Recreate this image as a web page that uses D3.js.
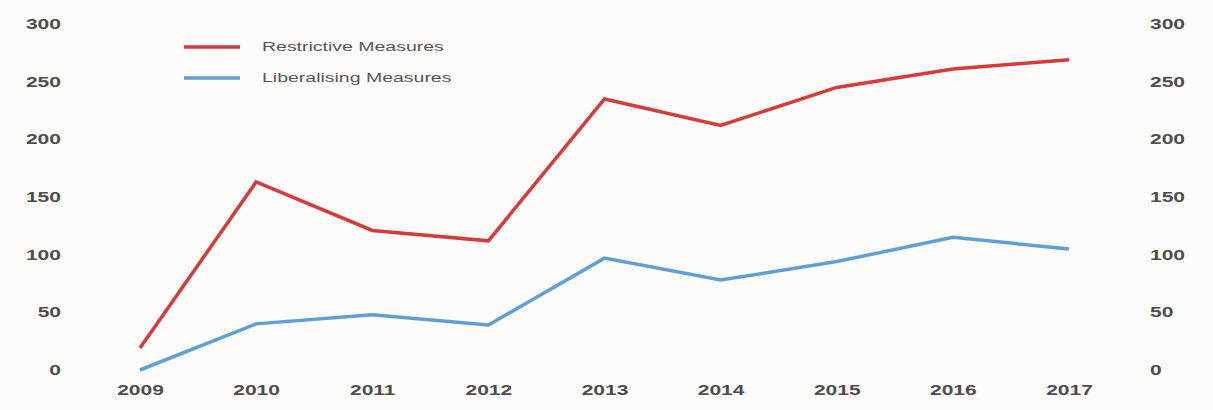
<!DOCTYPE html>
<html>
<head>
<meta charset="utf-8">
<script src="https://cdn.jsdelivr.net/npm/d3@7"></script>
<style>
  body { margin: 0; background: #fdfcfb; }
  svg { display: block; font-family: "Liberation Sans", Arial, sans-serif; }
  .tick text { fill: #4d4d4d; font-size: 14.5px; font-weight: bold; transform-box: fill-box; }
  .legend text { fill: #555; font-size: 12.5px; transform-box: fill-box; transform-origin: left center; transform: scaleX(1.56); }
</style>
</head>
<body>
<svg width="1213" height="410"></svg>
<script>
const years = [2009, 2010, 2011, 2012, 2013, 2014, 2015, 2016, 2017];
const restrictive = [19, 163, 121, 112, 235, 212, 245, 261, 269];
const liberalising = [0, 40, 48, 39, 97, 78, 94, 115, 105];
const yTicks = [0, 50, 100, 150, 200, 250, 300];

const svg = d3.select("svg");

const x = d3.scalePoint().domain(years).range([140, 1069]);
const y = d3.scaleLinear().domain([0, 300]).range([370, 24]);

const series = [
  {name: "Restrictive Measures", values: restrictive, color: "#d8393b"},
  {name: "Liberalising Measures", values: liberalising, color: "#5ea0d6"}
];

// the labels in the picture are stretched sideways
const stretch = (origin) => g => g.selectAll("text")
    .style("transform-origin", origin)
    .style("transform", "scaleX(1.45)");

svg.append("g")
    .attr("transform", "translate(61,0)")
    .call(d3.axisLeft(y).tickValues(yTicks).tickSize(0).tickPadding(0))
    .call(g => g.select(".domain").remove())
    .call(stretch("right center"));

svg.append("g")
    .attr("transform", "translate(1150,0)")
    .call(d3.axisRight(y).tickValues(yTicks).tickSize(0).tickPadding(0))
    .call(g => g.select(".domain").remove())
    .call(stretch("left center"));

svg.append("g")
    .attr("transform", "translate(0,385)")
    .call(d3.axisBottom(x).tickSize(0).tickPadding(0).tickFormat(d3.format("d")))
    .call(g => g.select(".domain").remove())
    .call(stretch("center"));

const line = d3.line()
    .x((d, i) => x(years[i]))
    .y(d => y(d));

svg.selectAll("path.series")
  .data(series)
  .enter().append("path")
    .attr("class", "series")
    .attr("fill", "none")
    .attr("stroke", d => d.color)
    .attr("stroke-width", 3.5)
    .attr("stroke-linejoin", "miter")
    .attr("d", d => line(d.values));

const legend = svg.append("g").attr("class", "legend");
const item = legend.selectAll("g")
  .data(series)
  .enter().append("g")
    .attr("transform", (d, i) => "translate(184," + (47 + i * 31) + ")");

item.append("line")
    .attr("x1", 0).attr("x2", 56)
    .attr("stroke", d => d.color)
    .attr("stroke-width", 3.5);

item.append("text")
    .attr("x", 78)
    .attr("dy", "0.35em")
    .text(d => d.name);
</script>
</body>
</html>
